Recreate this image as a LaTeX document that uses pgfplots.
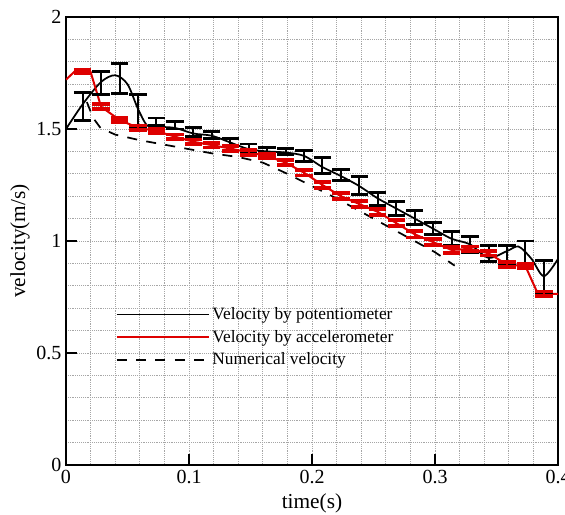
\documentclass[border=0pt]{standalone}
\usepackage{fontspec}
\setmainfont{Liberation Serif}
\usepackage{pgfplots}
\usepackage{pgfplotstable}
\pgfplotsset{compat=1.18}
\definecolor{accred}{RGB}{222,0,0}

% potentiometer: error bar points
\pgfplotstableread{
t       v      e
0.0135  1.600  0.064
0.0285  1.705  0.052
0.0435  1.727  0.067
0.0585  1.581  0.071
0.0735  1.533  0.016
0.0885  1.516  0.016
0.1035  1.486  0.020
0.1185  1.473  0.015
0.1335  1.443  0.015
0.1485  1.415  0.018
0.1635  1.406  0.012
0.1785  1.400  0.013
0.1935  1.380  0.025
0.2085  1.336  0.035
0.2235  1.295  0.025
0.2385  1.247  0.040
0.2535  1.187  0.030
0.2685  1.145  0.030
0.2835  1.105  0.033
0.2985  1.056  0.025
0.3135  1.011  0.030
0.3285  0.985  0.035
0.3435  0.943  0.036
0.3585  0.940  0.040
0.3735  0.946  0.054
0.3885  0.843  0.072
}\potbars

% accelerometer: error bar points
\pgfplotstableread{
t       v      e
0.0135  1.757  0.008
0.0285  1.600  0.010
0.0435  1.540  0.010
0.0585  1.506  0.010
0.0735  1.491  0.010
0.0885  1.466  0.010
0.1035  1.443  0.010
0.1185  1.428  0.010
0.1335  1.413  0.010
0.1485  1.395  0.010
0.1635  1.380  0.010
0.1785  1.350  0.010
0.1935  1.305  0.012
0.2085  1.250  0.014
0.2235  1.200  0.014
0.2385  1.165  0.014
0.2535  1.130  0.014
0.2685  1.080  0.014
0.2835  1.030  0.014
0.2985  0.995  0.014
0.3135  0.960  0.012
0.3285  0.965  0.010
0.3435  0.945  0.010
0.3585  0.895  0.010
0.3735  0.888  0.010
0.3885  0.764  0.010
}\accbars

\begin{document}
\begin{tikzpicture}
\begin{axis}[
    scale only axis,
    width=369pt, height=336pt,
    xmin=0, xmax=0.4,
    ymin=0, ymax=2,
    xtick={0,0.1,0.2,0.3,0.4},
    ytick={0,0.5,1,1.5,2},
    minor x tick num=4,
    minor y tick num=4,
    grid=both,
    grid style={densely dotted, black!35, line width=0.5pt},
    tick align=inside,
    xtick pos=left, ytick pos=left,
    major tick length=8pt, minor tick length=0pt,
    tick style={black, line width=2pt},
    axis line style={line width=2pt},
    /pgf/number format/assume math mode=true,
    tick label style={font=\fontsize{15}{18}\selectfont},
    label style={font=\fontsize{16}{19}\selectfont},
    xlabel={time(s)},
    ylabel={velocity(m/s)},
    xlabel style={yshift=-1pt},
    ylabel style={yshift=-2pt},
    legend style={draw=none, fill=none, at={(axis cs:0.037,0.728)}, anchor=north west,
        font=\fontsize{13}{16}\selectfont, row sep=2.5pt,
        nodes={inner sep=2pt}},
    legend cell align=left,
    legend image code/.code={\draw[#1] (0pt,0pt) -- (60pt,0pt); \path (0pt,0pt) -- (69pt,0pt);},
]
\coordinate (bl) at (rel axis cs:0,0);
\coordinate (tr) at (rel axis cs:1,1);

\addplot[black, line width=1.3pt, smooth, tension=0.5] coordinates {
(0,1.50)(0.0135,1.61)(0.0285,1.71)(0.040,1.74)(0.050,1.70)(0.0585,1.59)
(0.066,1.515)(0.0735,1.51)(0.0885,1.505)(0.1035,1.48)(0.1185,1.47)
(0.1335,1.44)(0.1485,1.41)(0.1635,1.40)(0.1785,1.395)(0.1935,1.38)
(0.2085,1.33)(0.2235,1.29)(0.2385,1.245)(0.2535,1.19)(0.2685,1.145)
(0.2835,1.10)(0.2985,1.055)(0.3135,1.01)(0.3285,0.985)(0.3435,0.925)
(0.3585,0.955)(0.368,0.975)(0.3785,0.92)(0.3885,0.843)(0.400,0.92)
};
\addlegendentry{Velocity by potentiometer}

\addplot[accred, line width=1.5pt] coordinates {
(0,1.72)(0.007,1.757)(0.0135,1.757)(0.020,1.755)(0.0285,1.60)(0.0435,1.54)
(0.0585,1.506)(0.0735,1.491)(0.0885,1.466)(0.1035,1.443)(0.1185,1.428)
(0.1335,1.413)(0.1485,1.395)(0.1635,1.38)(0.1785,1.35)(0.1935,1.305)
(0.2085,1.25)(0.2235,1.20)(0.2385,1.165)(0.2535,1.13)(0.2685,1.08)
(0.2835,1.03)(0.2985,0.995)(0.3135,0.96)(0.3285,0.965)(0.3435,0.945)
(0.3585,0.895)(0.3735,0.888)(0.3835,0.766)(0.3885,0.764)(0.400,0.764)
};
\addlegendentry{Velocity by accelerometer}

\addplot[black, line width=1.3pt, dash pattern=on 7.5pt off 7pt] coordinates {
(0.017,1.62)(0.022,1.55)(0.028,1.505)(0.040,1.475)(0.060,1.45)(0.080,1.43)
(0.100,1.41)(0.120,1.39)(0.140,1.375)(0.160,1.35)(0.180,1.30)(0.200,1.245)
(0.220,1.19)(0.240,1.13)(0.260,1.07)(0.280,1.01)(0.300,0.95)(0.316,0.89)
};
\addlegendentry{Numerical velocity}

\addplot[draw=none, mark=none, forget plot,
    error bars/.cd, y dir=both, y explicit,
    error bar style={draw=black, line width=1.5pt},
    error mark options={draw=black, rotate=90, line width=2.2pt, mark size=6.5pt}]
    table[x=t, y=v, y error=e] {\potbars};

\addplot[draw=none, mark=none, forget plot,
    error bars/.cd, y dir=both, y explicit,
    error bar style={draw=accred, line width=1.5pt},
    error mark options={draw=accred, rotate=90, line width=2.8pt, mark size=6.5pt}]
    table[x=t, y=v, y error=e] {\accbars};
\end{axis}
\pgfresetboundingbox
\path[use as bounding box] ([shift={(-49.5pt,-36.75pt)}]bl) rectangle ([shift={(5.25pt,12.75pt)}]tr);
\end{tikzpicture}
\end{document}
